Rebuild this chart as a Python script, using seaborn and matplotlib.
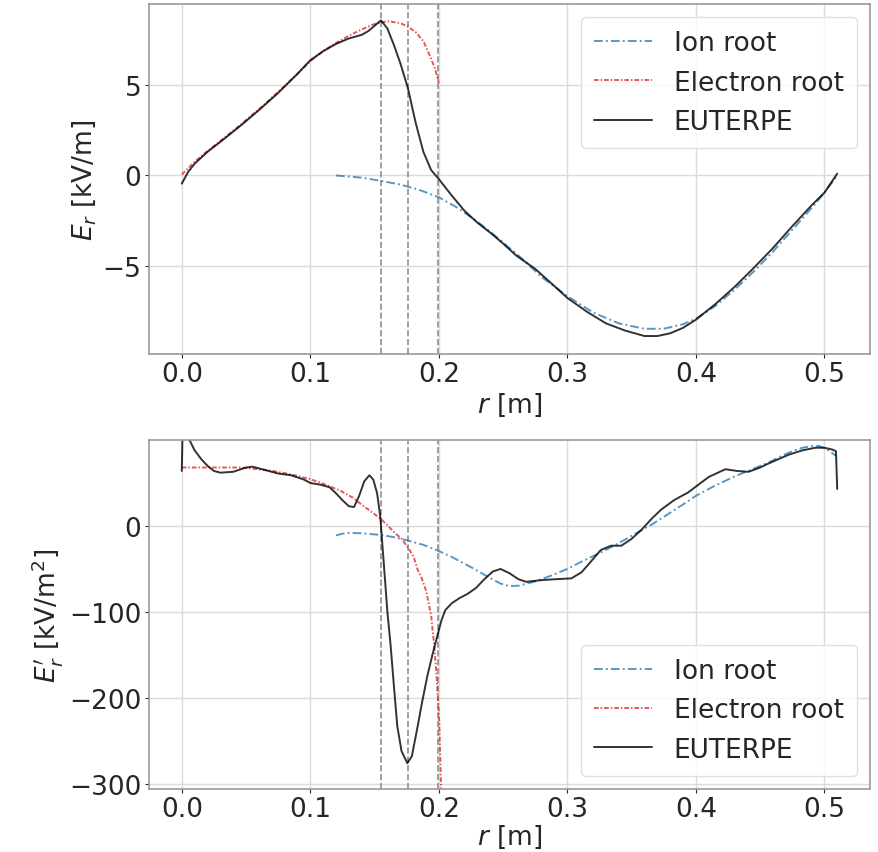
import numpy as np
import pandas as pd
import matplotlib
matplotlib.use("Agg")
import matplotlib.pyplot as plt
import seaborn as sns

# ---------------- data ----------------
# Top panel: E_r [kV/m]
r_euterpe_top = [0.0, 0.005, 0.01, 0.02, 0.03, 0.045, 0.06, 0.075, 0.09, 0.1, 0.11, 0.12,
                 0.13, 0.14, 0.145, 0.15, 0.155, 0.16, 0.165, 0.17, 0.176, 0.182, 0.188,
                 0.194, 0.2, 0.21, 0.22, 0.23, 0.24, 0.25, 0.26, 0.275, 0.29, 0.3, 0.315,
                 0.33, 0.345, 0.36, 0.37, 0.38, 0.39, 0.4, 0.415, 0.43, 0.445, 0.46, 0.475,
                 0.49, 0.5, 0.51]
E_euterpe_top = [-0.45, 0.2, 0.65, 1.3, 1.85, 2.7, 3.6, 4.55, 5.6, 6.35, 6.85, 7.25,
                 7.55, 7.75, 7.95, 8.25, 8.55, 8.1, 7.2, 6.2, 4.8, 2.9, 1.3,
                 0.3, -0.2, -1.1, -1.95, -2.6, -3.15, -3.75, -4.4, -5.15, -6.1, -6.75, -7.5,
                 -8.15, -8.55, -8.85, -8.85, -8.7, -8.4, -7.95, -7.1, -6.15, -5.1, -4.0, -2.8,
                 -1.65, -0.95, 0.1]

r_ion_top = [0.12, 0.14, 0.155, 0.17, 0.185, 0.2, 0.215, 0.23, 0.24, 0.25, 0.265, 0.28,
             0.3, 0.32, 0.34, 0.36, 0.375, 0.39, 0.4, 0.415, 0.43, 0.445, 0.46, 0.475,
             0.49, 0.5, 0.51]
E_ion_top = [0.0, -0.12, -0.3, -0.5, -0.8, -1.2, -1.8, -2.55, -3.1, -3.7, -4.6, -5.6,
             -6.65, -7.55, -8.15, -8.45, -8.45, -8.2, -7.9, -7.2, -6.3, -5.3, -4.2, -3.0,
             -1.8, -0.95, 0.0]

r_el_top = [0.0, 0.01, 0.02, 0.03, 0.045, 0.06, 0.075, 0.09, 0.1, 0.11, 0.12, 0.13,
            0.14, 0.15, 0.16, 0.17, 0.176, 0.182, 0.188, 0.193, 0.197, 0.2]
E_el_top = [0.05, 0.75, 1.35, 1.9, 2.75, 3.65, 4.6, 5.6, 6.3, 6.85, 7.3, 7.7,
            8.05, 8.35, 8.5, 8.4, 8.2, 7.9, 7.4, 6.6, 5.9, 5.1]

# Bottom panel: E_r' [kV/m^2]
r_euterpe_bot = [0.0, 0.001, 0.006, 0.01, 0.015, 0.02, 0.025, 0.03, 0.04, 0.05, 0.055,
                 0.065, 0.075, 0.085, 0.095, 0.1, 0.108, 0.115, 0.12, 0.125, 0.13, 0.134,
                 0.138, 0.142, 0.146, 0.149, 0.152, 0.1545, 0.157, 0.16, 0.1625, 0.165,
                 0.1677, 0.171, 0.1755, 0.179, 0.1833, 0.187, 0.191, 0.195, 0.199, 0.202,
                 0.205, 0.21, 0.216, 0.2224, 0.229, 0.2354, 0.242, 0.248, 0.255, 0.262,
                 0.268, 0.28, 0.29, 0.303, 0.311, 0.318, 0.326, 0.334, 0.342, 0.35, 0.358,
                 0.366, 0.373, 0.383, 0.394, 0.41, 0.423, 0.432, 0.441, 0.45, 0.457, 0.4724,
                 0.483, 0.493, 0.5, 0.506, 0.509, 0.51]
dE_euterpe_bot = [64, 140, 100, 88, 78, 70, 64, 62, 63, 68, 69,
                  65, 61, 59, 54, 50, 48, 45, 38, 30, 23, 22,
                  35, 52, 59, 54, 38, 10, -40, -100, -139, -185,
                  -233, -262, -276, -268, -235, -205, -175, -150, -127, -110,
                  -98, -90, -84, -79, -72, -62, -53, -50, -55, -62,
                  -65, -63, -62, -61, -54, -42, -28, -23, -23, -15, -4,
                  9, 19, 30, 39, 57, 66, 64, 63, 68, 73, 83,
                  88, 91, 91, 89, 87, 43]

r_ion_bot = [0.12, 0.125, 0.131, 0.14, 0.155, 0.165, 0.176, 0.188, 0.199, 0.21, 0.22,
             0.2276, 0.238, 0.248, 0.255, 0.262, 0.274, 0.287, 0.3, 0.313, 0.3266, 0.34,
             0.3526, 0.366, 0.3786, 0.39, 0.4, 0.415, 0.4307, 0.444, 0.4568, 0.466, 0.475,
             0.483, 0.4906, 0.496, 0.501, 0.505, 0.509]
dE_ion_bot = [-11, -9, -8, -8.5, -10.5, -13, -17, -22, -28.5, -36, -44,
              -50, -59, -67, -70, -69.5, -65, -58, -50, -40, -30.5, -20,
              -9.3, 2, 14, 25, 35, 47, 58, 66, 74, 81, 87,
              91, 93, 93, 90, 86, 81.5]

r_el_bot = [0.0, 0.01, 0.02, 0.03, 0.045, 0.06, 0.071, 0.085, 0.1, 0.112, 0.1234, 0.133,
            0.141, 0.148, 0.155, 0.16, 0.165, 0.171, 0.176, 0.1805, 0.1833, 0.1865, 0.19,
            0.194, 0.1964, 0.1985, 0.2003, 0.2016, 0.2025]
dE_el_bot = [68, 68, 68, 68, 68, 66, 64, 60, 54.5, 48, 41, 33,
             23.6, 16, 8, 1, -7, -15, -25, -36, -50, -60, -75,
             -104, -139, -180, -227, -293, -350]

r_markers = [0.155, 0.176, 0.199]

# ---------------- style ----------------
sns.set_style("whitegrid", {
    "axes.edgecolor": "0.6",
    "grid.color": "0.86",
    "xtick.bottom": True,
    "ytick.left": True,
    "xtick.color": "0.15",
    "ytick.color": "0.15",
})
plt.rcParams["font.family"] = ["DejaVu Sans"]
plt.rcParams["mathtext.fontset"] = "dejavusans"
FS = 19
plt.rcParams.update({
    "xtick.labelsize": FS, "ytick.labelsize": FS,
    "axes.labelsize": FS, "legend.fontsize": FS,
    "xtick.major.size": 3, "ytick.major.size": 3,
    "xtick.major.pad": 2.0, "ytick.major.pad": 2.5,
    "xtick.major.width": 0.8, "ytick.major.width": 0.8,
    "axes.linewidth": 1.2,
    "axes.labelpad": 3.0,
})

fig = plt.figure(figsize=(8.79, 8.53), dpi=100)
W, H = 879, 853
ax1 = fig.add_axes([149 / W, 1 - 355 / H, (870 - 149) / W, (355 - 5) / H])
ax2 = fig.add_axes([149 / W, 1 - 790 / H, (870 - 149) / W, (790 - 441) / H])

ion_style = dict(color="#1f77b4", alpha=0.75, lw=1.4, linestyle=(0, (4.5, 1.6, 1, 1.6)))
el_style = dict(color="#e02020", alpha=0.75, lw=1.4, linestyle=(0, (2.4, 1.0, 0.8, 1.0)))
eu_style = dict(color="black", alpha=0.8, lw=1.4, linestyle="-")


def panel(ax, r_ion, y_ion, r_el, y_el, r_eu, y_eu, labelpad):
    sns.lineplot(x=r_ion, y=y_ion, ax=ax, label="Ion root", estimator=None, sort=False, **ion_style)
    sns.lineplot(x=r_el, y=y_el, ax=ax, label="Electron root", estimator=None, sort=False, **el_style)
    sns.lineplot(x=r_eu, y=y_eu, ax=ax, label="EUTERPE", estimator=None, sort=False, **eu_style)
    for rm in r_markers:
        ax.axvline(rm, color="0.45", ls="--", lw=1.2, alpha=0.8, zorder=1)
    ax.set_xlim(-0.0255, 0.5355)
    ax.set_xticks([0.0, 0.1, 0.2, 0.3, 0.4, 0.5])
    ax.set_xlabel(r"$r$ [m]", labelpad=labelpad)
    ax.grid(True, lw=1.0)


panel(ax1, r_ion_top, E_ion_top, r_el_top, E_el_top, r_euterpe_top, E_euterpe_top, 3.0)
ax1.set_ylim(-9.84, 9.45)
ax1.set_yticks([-5, 0, 5])
ax1.set_ylabel(r"$E_r$ [kV/m]")
ax1.legend(loc="upper right", frameon=True, fancybox=True, edgecolor="0.85",
           handlelength=2.2, borderpad=0.5)

panel(ax2, r_ion_bot, dE_ion_bot, r_el_bot, dE_el_bot, r_euterpe_bot, dE_euterpe_bot, 0.5)
ax2.set_ylim(-306, 100)
ax2.set_yticks([-300, -200, -100, 0])
ax2.set_ylabel(r"$E_r'$ [kV/m$^2$]")
ax2.legend(loc="lower right", frameon=True, fancybox=True, edgecolor="0.85",
           handlelength=2.2, borderpad=0.5)

for ax in (ax1, ax2):
    for s in ax.spines.values():
        s.set_color("0.6")

fig.savefig("out.png", dpi=100)
